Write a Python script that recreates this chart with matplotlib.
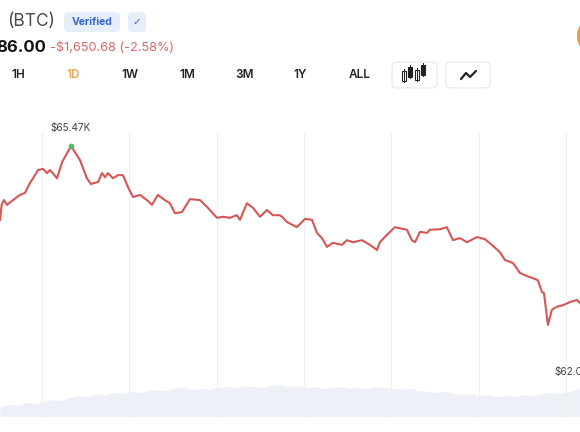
import matplotlib
matplotlib.use("Agg")
import matplotlib.pyplot as plt
from matplotlib.patches import FancyBboxPatch, Circle, Rectangle

plt.rcParams['font.family'] = ['Inter', 'DejaVu Sans']

# price line, hours of the day vs price in $K
hours = [2.08, 2.15, 2.26, 2.40, 2.67, 2.99, 3.22, 3.45, 3.59, 3.82, 4.05, 4.23,
         4.37, 4.69, 4.92, 5.33, 5.74, 6.06, 6.24, 6.57, 6.75, 6.89, 7.02, 7.25,
         7.48, 7.71, 7.94, 8.17, 8.49, 8.81, 9.04, 9.31, 9.63, 9.86, 10.09, 10.41,
         10.78, 11.24, 11.56, 12.02, 12.29, 12.61, 12.93, 13.07, 13.39, 13.67, 13.99,
         14.31, 14.58, 14.90, 15.00, 15.22, 15.68, 16.05, 16.37, 16.60, 16.83, 17.06,
         17.33, 17.74, 17.97, 18.25, 18.66, 19.03, 19.35, 19.48, 19.80, 20.17, 20.72,
         20.95, 21.09, 21.32, 21.64, 21.77, 22.23, 22.55, 22.83, 23.15, 23.47, 23.93,
         24.29, 24.61, 24.98, 25.21, 25.58, 25.90, 26.22, 26.49, 26.72, 26.91, 27.00,
         27.18, 27.36, 27.59, 27.87, 28.19, 28.51, 28.65]
price = [64.05, 64.34, 64.43, 64.34, 64.43, 64.53, 64.57, 64.76, 64.85, 65.01, 65.03, 64.95,
         65.01, 64.85, 65.16, 65.47, 65.20, 64.85, 64.74, 64.78, 64.95, 64.87, 64.95, 64.85,
         64.91, 64.91, 64.68, 64.49, 64.53, 64.43, 64.34, 64.53, 64.43, 64.37, 64.18, 64.20,
         64.45, 64.43, 64.30, 64.09, 64.11, 64.09, 64.14, 64.05, 64.37, 64.28, 64.11,
         64.24, 64.14, 64.14, 64.11, 64.01, 63.91, 64.07, 64.05, 63.80, 63.70, 63.53,
         63.61, 63.57, 63.66, 63.62, 63.66, 63.57, 63.47, 63.62, 63.76, 63.91, 63.86,
         63.66, 63.62, 63.82, 63.80, 63.86, 63.87, 63.91, 63.66, 63.70, 63.62, 63.72,
         63.68, 63.57, 63.43, 63.28, 63.22, 63.03, 62.97, 62.93, 62.89, 62.66, 62.64,
         62.03, 62.32, 62.38, 62.41, 62.47, 62.51, 62.45]

# volume band at the bottom (relative units)
vol_hours = [2.1, 2.5, 2.9, 3.3, 3.7, 4.1, 4.5, 4.9, 5.3, 5.7, 6.1, 6.5, 6.9, 7.3, 7.7,
             8.1, 8.5, 8.9, 9.3, 9.7, 10.1, 10.5, 10.9, 11.3, 11.7, 12.1, 12.5, 12.9,
             13.3, 13.7, 14.1, 14.5, 14.9, 15.3, 15.7, 16.1, 16.5, 16.9, 17.3, 17.7,
             18.1, 18.5, 18.9, 19.3, 19.7, 20.1, 20.5, 20.9, 21.3, 21.7, 22.1, 22.5,
             22.9, 23.3, 23.7, 24.1, 24.5, 24.9, 25.3, 25.7, 26.1, 26.5, 26.9, 27.3,
             27.7, 28.1, 28.5, 28.7]
volume = [10, 12, 11, 14, 13, 15, 17, 16, 19, 21, 20, 23, 22, 24, 23, 25, 24, 26, 27, 26,
          28, 29, 27, 28, 27, 29, 30, 29, 31, 30, 29, 31, 32, 30, 31, 29, 30, 28, 29, 30,
          28, 29, 28, 30, 29, 28, 27, 28, 26, 25, 24, 25, 23, 22, 23, 21, 22, 20, 21, 20,
          22, 21, 23, 24, 23, 25, 27, 29]

grid_hours = [4, 8, 12, 16, 20, 24, 28]
ranges = ['1H', '1D', '1W', '1M', '3M', '1Y', 'ALL']
range_x = [18, 73, 130, 187, 245, 300, 360]

W, H = 580, 432
fig = plt.figure(figsize=(W / 100, H / 100), dpi=100)
fig.patch.set_facecolor('white')

# header layer in pixel coordinates
bg = fig.add_axes([0, 0, 1, 1])
bg.set_xlim(0, W)
bg.set_ylim(H, 0)
bg.axis('off')

bg.text(7, 21, '(BTC)', fontsize=12.5, color='#4a4a4a', va='center', ha='left')
bg.add_patch(FancyBboxPatch((64, 12), 56, 20, boxstyle='round,pad=0,rounding_size=4',
                            fc='#e6edfb', ec='none'))
bg.text(92, 22, 'Verified', fontsize=7.5, fontweight='bold', color='#3566c8',
        va='center', ha='center')
bg.add_patch(FancyBboxPatch((128, 12), 18, 20, boxstyle='round,pad=0,rounding_size=4',
                            fc='#e6edfb', ec='none'))
bg.text(137, 22, '\u2713', fontsize=7.5, color='#3566c8', va='center', ha='center',
        family=['DejaVu Sans'])

bg.text(-4, 47, '86.00', fontsize=12, fontweight='bold', color='#111111',
        va='center', ha='left')
bg.text(50, 48, '-$1,650.68 (-2.58%)', fontsize=9.2, color='#d46a6a',
        va='center', ha='left')

for lab, x in zip(ranges, range_x):
    col = '#e8a45e' if lab == '1D' else '#222222'
    bg.text(x, 75, lab, fontsize=8.5, fontweight='semibold', color=col,
            va='center', ha='center')

for x0, w in [(392, 45), (446, 44)]:
    bg.add_patch(FancyBboxPatch((x0, 62), w, 26, boxstyle='round,pad=0,rounding_size=5',
                                fc='white', ec='#e6e6e6', lw=0.8))

# candlestick icon
for cx, top, bot, filled in [(404, 71, 81, False), (410, 67, 77, True),
                             (417, 70, 80, False), (423, 65, 75, True)]:
    bg.plot([cx, cx], [top - 2, bot + 1], color='#222222', lw=0.7)
    bg.add_patch(Rectangle((cx - 2, top), 4, bot - top,
                           fc='#222222' if filled else 'white', ec='#222222', lw=0.8))
# line icon
bg.plot([461, 466, 470, 476], [79, 73, 77, 71], color='#222222', lw=1.6,
        solid_capstyle='round', solid_joinstyle='round')

bg.add_patch(Circle((598, 36), 21, fc='#f29a2e', ec='none'))

# chart area spans x 0..580 px, y 132..417 px
ax = fig.add_axes([0, (H - 417) / H, 1, 285 / H])
ax.set_xlim(2.076, 28.65)
ax.set_ylim(60.26, 65.74)
ax.axis('off')

vax = ax.twinx()
vax.set_ylim(0, 285)
vax.axis('off')
vax.fill_between(vol_hours, volume, 0, color='#edf0f6', lw=0, zorder=1)

for g in grid_hours:
    ax.axvline(g, color='#efefef', lw=0.8, zorder=0)

ax.set_zorder(vax.get_zorder() + 1)
ax.patch.set_visible(False)
ax.plot(hours, price, color='#d65656', lw=1.5, zorder=3,
        solid_joinstyle='round')

i_max = price.index(max(price))
i_min = price.index(min(price))
ax.scatter([hours[i_max]], [price[i_max]], s=10, color='#5cb85c', zorder=4)
ax.annotate(f'${price[i_max]:.2f}K', (hours[i_max], price[i_max]),
            xytext=(0, 13), textcoords='offset points', ha='center', va='center',
            fontsize=7.2, color='#444444')
ax.annotate(f'${price[i_min]:.2f}K', (hours[i_min], price[i_min]),
            xytext=(5, -34), textcoords='offset points', ha='left', va='center',
            fontsize=7.2, color='#444444')

fig.savefig('out.png', dpi=100, facecolor='white')
